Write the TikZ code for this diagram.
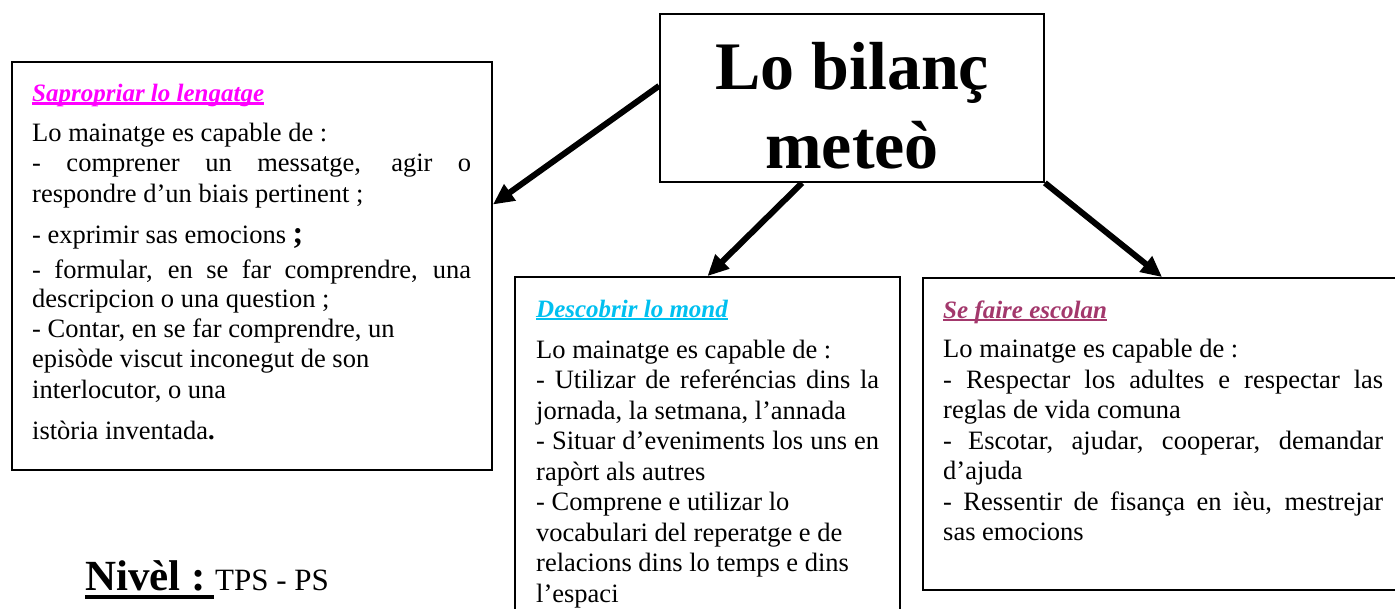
\documentclass[tikz,border=0pt]{standalone}
\usepackage{fontspec}
\setmainfont{Liberation Serif}
\usetikzlibrary{arrows.meta,calc}
\definecolor{hmag}{HTML}{FF00FF}
\definecolor{hcyan}{HTML}{00C0F0}
\definecolor{hplum}{HTML}{A3386C}
\newcommand\bodyf{\fontsize{26.5}{31}\selectfont}
\newcommand\headf{\bfseries\itshape\fontsize{25}{29}\selectfont}
\newcommand\jl[2]{\makebox[#1][s]{#2}}
\begin{document}
\begin{tikzpicture}[x=1pt,y=-1pt,
 box/.style={draw=black, line width=1.8pt, rectangle, inner sep=0pt},
 txt/.style={anchor=base west, inner sep=0pt, font=\bodyf},
 hd/.style={anchor=base west, inner sep=0pt, font=\headf},
 link/.style={line width=6pt, -{Triangle[length=21pt,width=19pt]}},
 ul/.style={line width=2.6pt}]
\useasboundingbox (0,0) rectangle (1395,608);
\clip (0,0) rectangle (1395,608);
\fill[white] (0,0) rectangle (1395,608);

% boxes
\node[box, minimum width=384, minimum height=168] (title) at (852,98) {};
\node[box, minimum width=480, minimum height=408] (bl) at (252,266) {};
\node[box, minimum width=385, minimum height=363] (bm) at (707.5,458.5) {};
\node[box, minimum width=482, minimum height=312] (br) at (1164,434) {};

% title
\node[anchor=base, inner sep=0pt, font=\bfseries\fontsize{68}{79}\selectfont] (tt1) at (852,89) {Lo bilanç};
\node[anchor=base, inner sep=0pt, font=\bfseries\fontsize{68}{79}\selectfont] (tt2) at (852,168) {meteò};

% arrows
\draw[link] ($(title.north west)!0.4286!(title.south west)$) -- ($(bl.north east)!0.35!(bl.south east)$);
\draw[link] ($(title.south west)+(143,0)$) -- (bm.north);
\draw[link] (title.south east) -- ($(br.north west)+(240,0)$);

% left box
\node[hd, text=hmag] (h1) at (32,101.5) {Sapropriar lo lengatge};
\draw[hmag, ul] ($(h1.base west)+(0,2)$) -- ($(h1.base east)+(0,2)$);
\node[txt] (l1) at (32,141) {Lo mainatge es capable de :};
\node[txt] (l2) at (32,171.7) {\jl{439pt}{- comprener un messatge, agir o}};
\node[txt] (l3) at (32,202.7) {respondre d’un biais pertinent ;};
\node[txt] (l4) at (32,243.3) {- exprimir sas emocions~{\bfseries\fontsize{32}{32}\selectfont ;}};
\node[txt] (l5) at (32,278.3) {\jl{439pt}{- formular, en se far comprendre, una}};
\node[txt] (l6) at (32,307.5) {descripcion o una question ;};
\node[txt] (l7) at (32,337.7) {- Contar, en se far comprendre, un};
\node[txt] (l8) at (32,367.5) {episòde viscut inconegut de son};
\node[txt] (l9) at (32,398.3) {interlocutor, o una};
\node[txt] (l10) at (32,439.3) {istòria inventada{\bfseries .}};

% middle box
\node[hd, text=hcyan] (h2) at (536,317) {Descobrir lo mond};
\draw[hcyan, ul] ($(h2.base west)+(0,2)$) -- ($(h2.base east)+(0,2)$);
\node[txt] (m1) at (536,358.3) {Lo mainatge es capable de :};
\node[txt] (m2) at (536,388.8) {\jl{343pt}{- Utilizar de referéncias dins la}};
\node[txt] (m3) at (536,419.3) {jornada, la setmana, l’annada};
\node[txt] (m4) at (536,449.8) {\jl{343pt}{- Situar d’eveniments los uns en}};
\node[txt] (m5) at (536,480.3) {rapòrt als autres};
\node[txt] (m6) at (536,510.8) {- Comprene e utilizar lo};
\node[txt] (m7) at (536,541.3) {vocabulari del reperatge e de};
\node[txt] (m8) at (536,571.8) {relacions dins lo temps e dins};
\node[txt] (m9) at (536,602.3) {l’espaci};

% right box
\node[hd, text=hplum] (h3) at (943,318) {Se faire escolan};
\draw[hplum, ul] ($(h3.base west)+(0,2)$) -- ($(h3.base east)+(0,2)$);
\node[txt] (r1) at (943,357.5) {Lo mainatge es capable de :};
\node[txt] (r2) at (943,388) {\jl{440pt}{- Respectar los adultes e respectar las}};
\node[txt] (r3) at (943,418.5) {reglas de vida comuna};
\node[txt] (r4) at (943,449.5) {\jl{440pt}{- Escotar, ajudar, cooperar, demandar}};
\node[txt] (r5) at (943,479.5) {d’ajuda};
\node[txt] (r6) at (943,510.5) {\jl{440pt}{- Ressentir de fisança en ièu, mestrejar}};
\node[txt] (r7) at (943,540.7) {sas emocions};

% level
\node[anchor=base west, inner sep=0pt, font=\bfseries\fontsize{43}{43}\selectfont] (niv) at (85,590) {Nivèl :};
\node[anchor=base west, inner sep=0pt, font=\fontsize{31}{31}\selectfont] (tps) at (215,590) {TPS - PS};
\draw[line width=4pt] ($(niv.base west)+(0,7)$) -- ($(tps.base west)+(-1,7)$);
\end{tikzpicture}
\end{document}
